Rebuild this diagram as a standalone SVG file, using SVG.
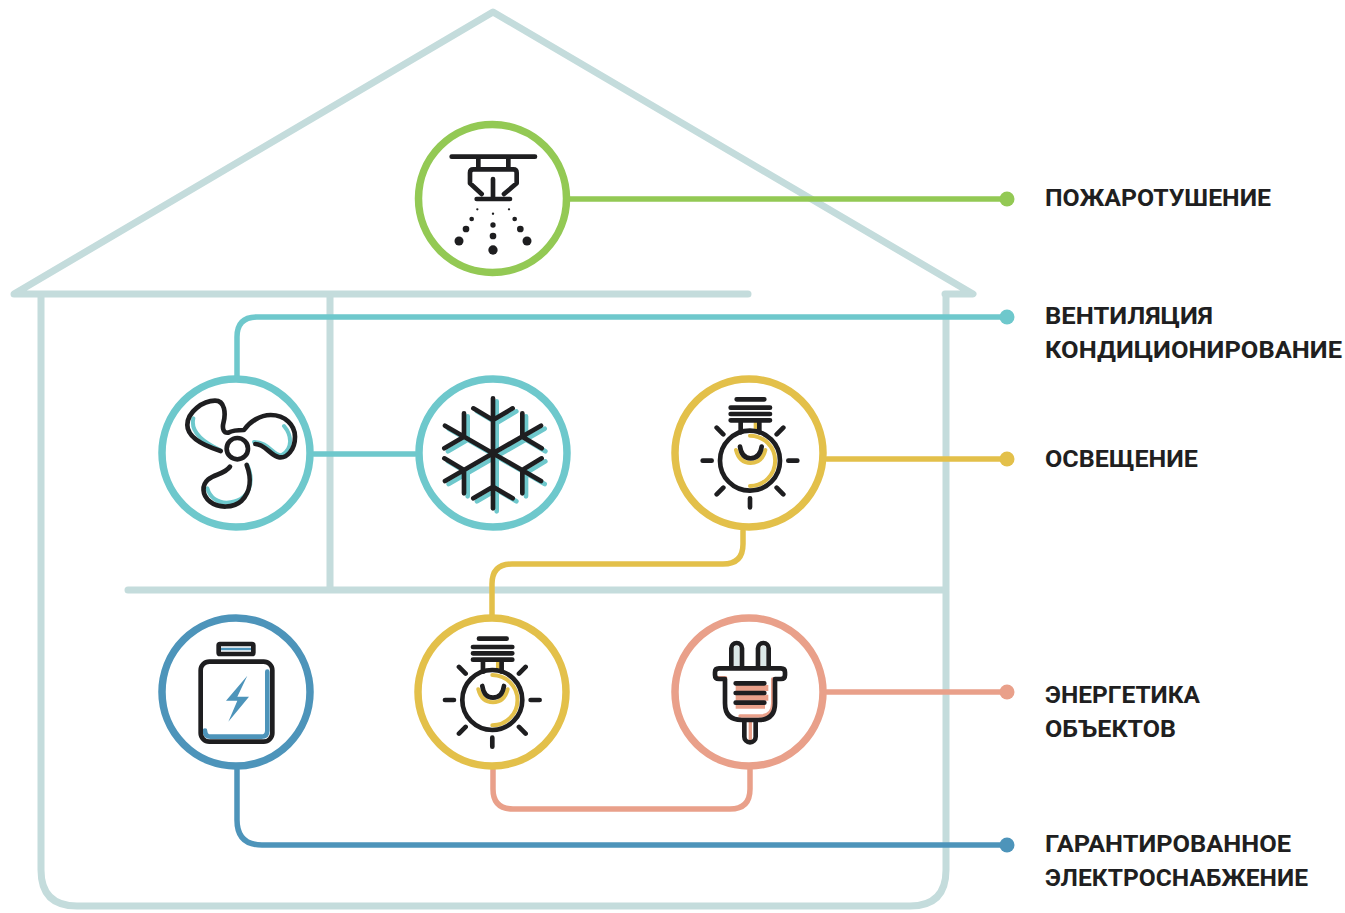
<svg xmlns="http://www.w3.org/2000/svg" xmlns:xlink="http://www.w3.org/1999/xlink" width="1345" height="913" viewBox="0 0 1345 913">
<style>
.l{fill:none;stroke-linecap:round;stroke-linejoin:round}
.house{stroke:#c4dcdc;stroke-width:7}
.c{fill:none;stroke-width:5.5;stroke-linecap:round;stroke-linejoin:round}
.ring{fill:#fff;stroke-width:7.5}
.k{fill:none;stroke:#1e1e20;stroke-width:14;stroke-linecap:round;stroke-linejoin:round}
.t{font-family:"Roboto","Liberation Sans",sans-serif;font-weight:700;font-size:23px;fill:#1f1f21}
.gr{stroke:#93c954}.te{stroke:#6ec8cc}.ye{stroke:#e3c04a}.sa{stroke:#e9a08a}.bl{stroke:#4d94ba}
</style>
<defs>
<g id="bulb">
<path class="l ye" stroke-width="12" d="M272 160V178M255 197A75 75 0 0 1 255 348M213 240Q223 279 257 279Q291 279 301 240"/>
<circle class="k" cx="255" cy="272" r="90"/>
<path class="k" d="M215 88H298M197 113H315M197 132H315M197 151H315M227 155V187M283 155V187M225 230Q230 265 257 265Q285 265 290 230M113 272H140M370 272H397M255 385V412M155 173L175 193M355 173L335 193M155 373L175 353M355 373L335 353"/>
</g>
</defs>

<g id="house">
<path class="l house" d="M748 294H14L493 12L973 294H945M41 294V870Q41 906 77 906H910Q946 906 946 870V294M330 294V590M128 590H946"/>
</g>

<g id="connectors">
<path class="c gr" d="M570 199H1007"/>
<path class="c te" d="M237 377V337Q237 317 257 317H1007"/>
<path class="c te" d="M314 454H415"/>
<path class="c ye" d="M827 459H1007"/>
<path class="c ye" d="M743 531V544Q743 564 723 564H512Q492 564 492 584V615"/>
<path class="c sa" d="M827 692H1007"/>
<path class="c sa" d="M493 770V789Q493 809 513 809H730Q750 809 750 789V770"/>
<path class="c bl" d="M237 770V820Q237 845 262 845H1007"/>
<circle cx="1007" cy="199" r="7.5" fill="#93c954"/>
<circle cx="1007" cy="317" r="7.5" fill="#6ec8cc"/>
<circle cx="1007" cy="459" r="7.5" fill="#e3c04a"/>
<circle cx="1007" cy="692" r="7.5" fill="#e9a08a"/>
<circle cx="1007" cy="845" r="7.5" fill="#4d94ba"/>
</g>

<g id="sprinkler">
<circle class="ring gr" cx="492.500" cy="198.500" r="74"/>
<g transform="translate(410 115) scale(.33333)">
<path class="k" d="M125 125H375M205 125V160M295 125V160M190 163H310Q320 163 320 173V205L282 237M190 163Q180 163 180 173V205L215 237M200 252H300M249 192V250"/>
<g fill="#1e1e20">
<circle cx="202" cy="283" r="3.500"/><circle cx="249" cy="296" r="3.500"/><circle cx="297" cy="283" r="3.500"/>
<circle cx="185" cy="312" r="7"/><circle cx="314" cy="312" r="7"/><circle cx="249" cy="330" r="8"/>
<circle cx="168" cy="342" r="10"/><circle cx="331" cy="342" r="10"/><circle cx="249" cy="363" r="10"/>
<circle cx="147" cy="378" r="13.500"/><circle cx="351" cy="378" r="13.500"/><circle cx="249" cy="405" r="14"/>
</g>
</g>
</g>

<g id="fan">
<circle class="ring te" cx="236" cy="453" r="74"/>
<g transform="translate(150 370) scale(.33333)">
<path class="l te" stroke-width="12" d="M130 145C122 180 145 210 210 240M402 168C425 195 430 235 395 256C370 258 355 215 312 216M292 285C312 330 305 395 230 398C205 398 180 385 172 355"/>
<path class="k" d="M212 243C165 228 112 205 112 165C112 125 160 92 195 92C225 92 228 130 220 160C216 178 222 190 235 188C250 180 268 180 282 180C300 155 330 135 362 135C405 135 435 165 435 200C435 240 410 265 388 262C362 258 345 222 316 222"/>
<path class="k" d="M290 285C305 325 302 365 275 392C250 415 205 415 180 395C155 375 155 345 175 328C195 312 225 312 240 290"/>
<circle class="k" cx="262" cy="236" r="32"/>
</g>
</g>

<g id="snowflake">
<circle class="ring te" cx="493" cy="453" r="74"/>
<g transform="translate(410 370) scale(.33333)">
<g id="flake-shadow" fill="none" stroke="#6ec8cc" stroke-width="14" stroke-linecap="round" stroke-linejoin="round" transform="translate(11 9)">
<path d="M249 85V415M105 333L393 167M105 167L393 333M190 115L249 150L308 115M190 385L249 350L308 385M162 130V200L103 235M337 130V200L395 235M162 370V300L103 265M337 370V300L395 265"/>
</g>
<path class="k" d="M249 85V415M105 333L393 167M105 167L393 333M190 115L249 150L308 115M190 385L249 350L308 385M162 130V200L103 235M337 130V200L395 235M162 370V300L103 265M337 370V300L395 265"/>
</g>
</g>

<g id="bulb-top">
<circle class="ring ye" cx="749" cy="453" r="74"/>
<use xlink:href="#bulb" href="#bulb" transform="translate(665 370) scale(.33333)"/>
</g>

<g id="battery">
<circle class="ring bl" cx="236" cy="692" r="74"/>
<g transform="translate(150 610) scale(.33333)">
<path class="l bl" stroke-width="8" d="M212 117H304"/>
<path class="l bl" stroke-width="14" d="M352 185V362Q352 380 334 380H182Q165 380 165 362"/>
<polygon points="292,197 228,272 262,272 235,335 297,260 262,260" fill="#4d94ba"/>
<rect class="k" x="206" y="102" width="104" height="30" rx="4"/>
<rect class="k" x="152" y="155" width="215" height="240" rx="26"/>
</g>
</g>

<g id="bulb-bottom">
<circle class="ring ye" cx="492" cy="692" r="74"/>
<use xlink:href="#bulb" href="#bulb" transform="translate(407.300 609.300) scale(.33333)"/>
</g>

<g id="plug">
<circle class="ring sa" cx="749" cy="692" r="74"/>
<g transform="translate(665 610) scale(.33333)">
<path d="M207 172V115a8 8 0 0 1 16 0V172ZM287 172V115a8 8 0 0 1 16 0V172Z" fill="#dbe8e8"/>
<path d="M160 203H182V290Q182 325 225 325H285Q326 320 326 285V205H316V285Q310 315 285 315H225V306H300V210H210V300H225V315Q195 310 195 280V210H160Z" fill="#e9a08a" opacity="0"/>
<path d="M212 225H310V243H212ZM212 254H310V272H212ZM212 283H300V296H212Z" fill="#e9a08a"/>
<path class="l sa" stroke-width="10" d="M160 203H182M323 207V280Q323 318 285 318H225M256 335V388"/>
<path class="k" d="M199 172V115a16 16 0 0 1 32 0V172M279 172V115a16 16 0 0 1 32 0V172"/>
<path class="k" d="M162 175H348Q360 175 360 187V195Q360 207 348 207H330V280Q330 330 280 330H230Q180 330 180 280V207H162Q150 207 150 195V187Q150 175 162 175Z"/>
<path class="k" d="M212 220H298M212 249H298M212 278H298M238 332V380a17 17 0 0 0 34 0V332"/>
</g>
</g>

<g id="labels">
<text class="t" x="1045" y="206" textLength="226" lengthAdjust="spacingAndGlyphs">ПОЖАРОТУШЕНИЕ</text>
<text class="t" x="1045" y="324" textLength="168" lengthAdjust="spacingAndGlyphs">ВЕНТИЛЯЦИЯ</text>
<text class="t" x="1045" y="358" textLength="297" lengthAdjust="spacingAndGlyphs">КОНДИЦИОНИРОВАНИЕ</text>
<text class="t" x="1045" y="467" textLength="153" lengthAdjust="spacingAndGlyphs">ОСВЕЩЕНИЕ</text>
<text class="t" x="1045" y="703" textLength="155" lengthAdjust="spacingAndGlyphs">ЭНЕРГЕТИКА</text>
<text class="t" x="1045" y="737" textLength="131" lengthAdjust="spacingAndGlyphs">ОБЪЕКТОВ</text>
<text class="t" x="1045" y="852" textLength="246" lengthAdjust="spacingAndGlyphs">ГАРАНТИРОВАННОЕ</text>
<text class="t" x="1045" y="886" textLength="263" lengthAdjust="spacingAndGlyphs">ЭЛЕКТРОСНАБЖЕНИЕ</text>
</g>
</svg>
